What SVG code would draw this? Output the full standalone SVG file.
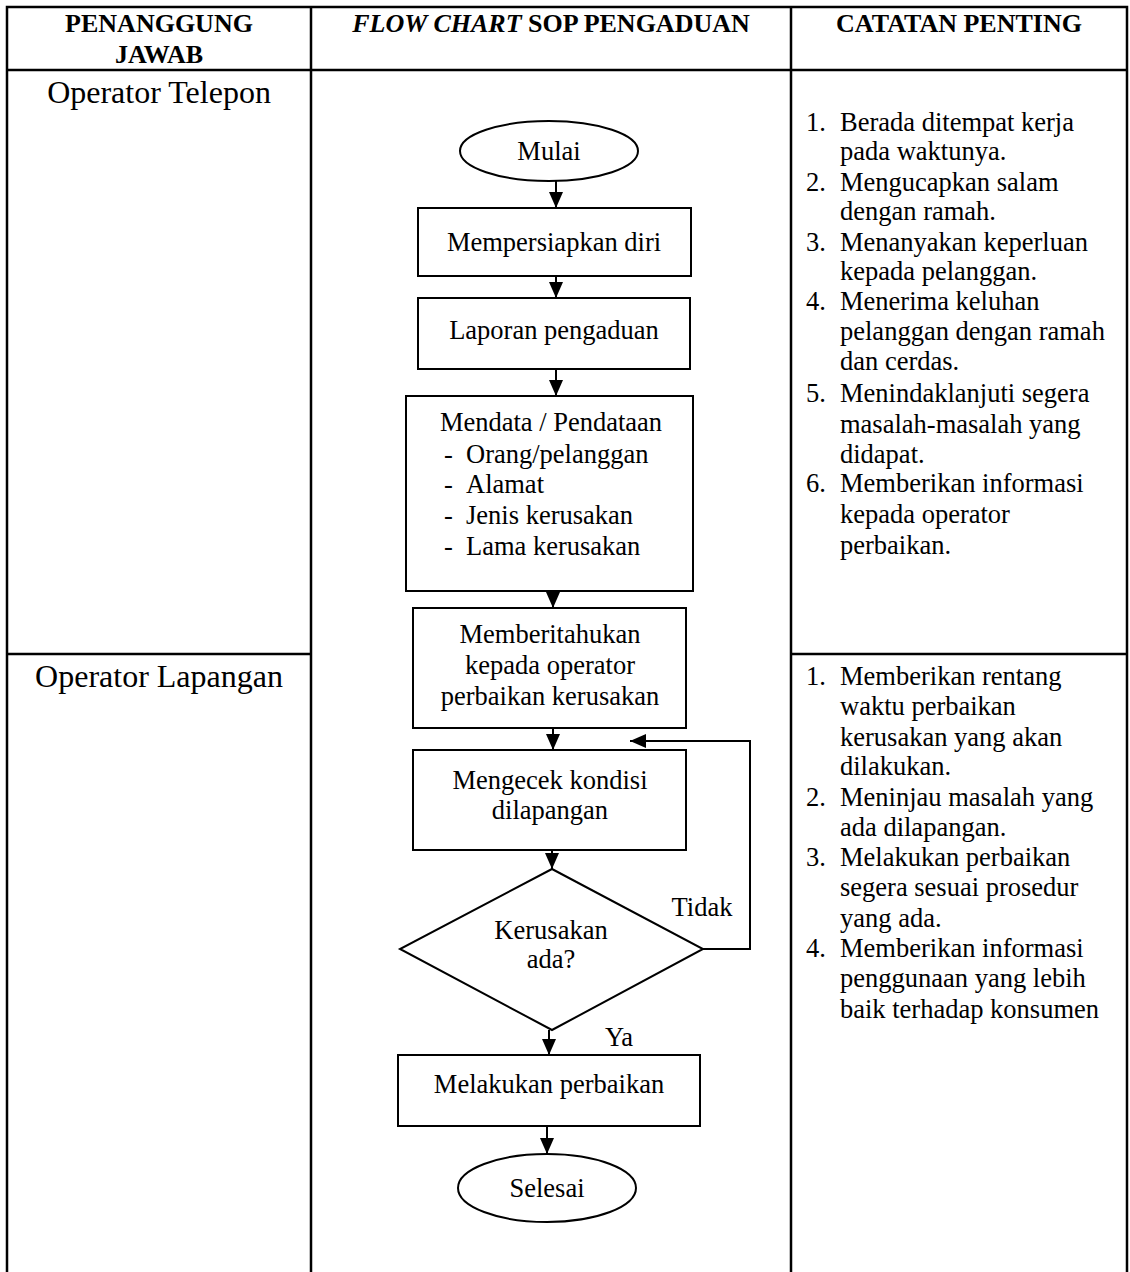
<svg xmlns="http://www.w3.org/2000/svg" width="1130" height="1272" viewBox="0 0 1130 1272">
<style>
text{font-family:"Liberation Serif","Times New Roman",serif;fill:#000}
.h{font-size:26px;font-weight:bold;text-anchor:middle}
.r{font-size:32px;text-anchor:middle}
.t{font-size:26.5px;text-anchor:middle}
.n{font-size:26.5px}
.grid{stroke:#000;stroke-width:2.5;fill:none}
.node{fill:#fff;stroke:#000;stroke-width:2}
.edge{fill:none;stroke:#000;stroke-width:2;marker-end:url(#ah)}
</style>
<defs>
<marker id="ah" markerUnits="userSpaceOnUse" markerWidth="16" markerHeight="16" refX="16" refY="7" orient="auto">
<path d="M0,0 L16,7 L0,14 Z" fill="#000"/>
</marker>
</defs>
<rect width="1130" height="1272" fill="#fff"/>
<g id="table" class="grid">
<path d="M7,1272 V7 H1127 V1272 M311,7 V1272 M791,7 V1272 M7,70 H1127 M7,654 H311 M791,654 H1127"/>
</g>
<g id="header">
<text class="h" x="159" y="32">PENANGGUNG</text>
<text class="h" x="159" y="63">JAWAB</text>
<text class="h" x="551" y="32"><tspan font-style="italic">FLOW CHART</tspan> SOP PENGADUAN</text>
<text class="h" x="959" y="32">CATATAN PENTING</text>
</g>
<g id="role-telepon"><text class="r" x="159" y="103">Operator Telepon</text></g>
<g id="role-lapangan"><text class="r" x="159" y="687">Operator Lapangan</text></g>
<g id="notes-telepon">
<text class="n" x="806" y="131">1.</text><text class="n" x="840" y="131">Berada ditempat kerja</text>
<text class="n" x="840" y="160">pada waktunya.</text>
<text class="n" x="806" y="191">2.</text><text class="n" x="840" y="191">Mengucapkan salam</text>
<text class="n" x="840" y="220">dengan ramah.</text>
<text class="n" x="806" y="251">3.</text><text class="n" x="840" y="251">Menanyakan keperluan</text>
<text class="n" x="840" y="280">kepada pelanggan.</text>
<text class="n" x="806" y="310">4.</text><text class="n" x="840" y="310">Menerima keluhan</text>
<text class="n" x="840" y="340">pelanggan dengan ramah</text>
<text class="n" x="840" y="370">dan cerdas.</text>
<text class="n" x="806" y="402">5.</text><text class="n" x="840" y="402">Menindaklanjuti segera</text>
<text class="n" x="840" y="433">masalah-masalah yang</text>
<text class="n" x="840" y="463">didapat.</text>
<text class="n" x="806" y="492">6.</text><text class="n" x="840" y="492">Memberikan informasi</text>
<text class="n" x="840" y="523">kepada operator</text>
<text class="n" x="840" y="554">perbaikan.</text>
</g>
<g id="notes-lapangan">
<text class="n" x="806" y="685">1.</text><text class="n" x="840" y="685">Memberikan rentang</text>
<text class="n" x="840" y="715">waktu perbaikan</text>
<text class="n" x="840" y="746">kerusakan yang akan</text>
<text class="n" x="840" y="775">dilakukan.</text>
<text class="n" x="806" y="806">2.</text><text class="n" x="840" y="806">Meninjau masalah yang</text>
<text class="n" x="840" y="836">ada dilapangan.</text>
<text class="n" x="806" y="866">3.</text><text class="n" x="840" y="866">Melakukan perbaikan</text>
<text class="n" x="840" y="896">segera sesuai prosedur</text>
<text class="n" x="840" y="927">yang ada.</text>
<text class="n" x="806" y="957">4.</text><text class="n" x="840" y="957">Memberikan informasi</text>
<text class="n" x="840" y="987">penggunaan yang lebih</text>
<text class="n" x="840" y="1018">baik terhadap konsumen</text>
</g>
<g id="connectors">
<line class="edge" x1="556" y1="181" x2="556" y2="208"/>
<line class="edge" x1="556" y1="276" x2="556" y2="298"/>
<line class="edge" x1="556" y1="369" x2="556" y2="396"/>
<line class="edge" x1="553" y1="591" x2="553" y2="608"/>
<line class="edge" x1="553" y1="728" x2="553" y2="750"/>
<line class="edge" x1="552" y1="850" x2="552" y2="869"/>
<line class="edge" x1="549" y1="1030" x2="549" y2="1055"/>
<line class="edge" x1="547" y1="1126" x2="547" y2="1154"/>
<polyline class="edge" points="703,949 750,949 750,741 630,741"/>
<text class="t" x="702" y="916">Tidak</text>
<text class="t" x="619" y="1046">Ya</text>
</g>
<g id="mulai">
<ellipse class="node" cx="549" cy="151" rx="89" ry="30"/>
<text class="t" x="549" y="160">Mulai</text>
</g>
<g id="mempersiapkan">
<rect class="node" x="418" y="208" width="273" height="68"/>
<text class="t" x="554" y="251">Mempersiapkan diri</text>
</g>
<g id="laporan">
<rect class="node" x="418" y="298" width="272" height="71"/>
<text class="t" x="554" y="339">Laporan pengaduan</text>
</g>
<g id="mendata">
<rect class="node" x="406" y="396" width="287" height="195"/>
<text class="t" x="551" y="431">Mendata / Pendataan</text>
<text class="n" x="444" y="463">-</text><text class="n" x="466" y="463">Orang/pelanggan</text>
<text class="n" x="444" y="493">-</text><text class="n" x="466" y="493">Alamat</text>
<text class="n" x="444" y="524">-</text><text class="n" x="466" y="524">Jenis kerusakan</text>
<text class="n" x="444" y="555">-</text><text class="n" x="466" y="555">Lama kerusakan</text>
</g>
<g id="memberitahukan">
<rect class="node" x="413" y="608" width="273" height="120"/>
<text class="t" x="550" y="643">Memberitahukan</text>
<text class="t" x="550" y="674">kepada operator</text>
<text class="t" x="550" y="705">perbaikan kerusakan</text>
</g>
<g id="mengecek">
<rect class="node" x="413" y="750" width="273" height="100"/>
<text class="t" x="550" y="789">Mengecek kondisi</text>
<text class="t" x="550" y="819">dilapangan</text>
</g>
<g id="kerusakan">
<polygon class="node" points="552,869 703,949 552,1030 400,949"/>
<text class="t" x="551" y="939">Kerusakan</text>
<text class="t" x="551" y="968">ada?</text>
</g>
<g id="melakukan">
<rect class="node" x="398" y="1055" width="302" height="71"/>
<text class="t" x="549" y="1093">Melakukan perbaikan</text>
</g>
<g id="selesai">
<ellipse class="node" cx="547" cy="1188" rx="89" ry="34"/>
<text class="t" x="547" y="1197">Selesai</text>
</g>
</svg>
